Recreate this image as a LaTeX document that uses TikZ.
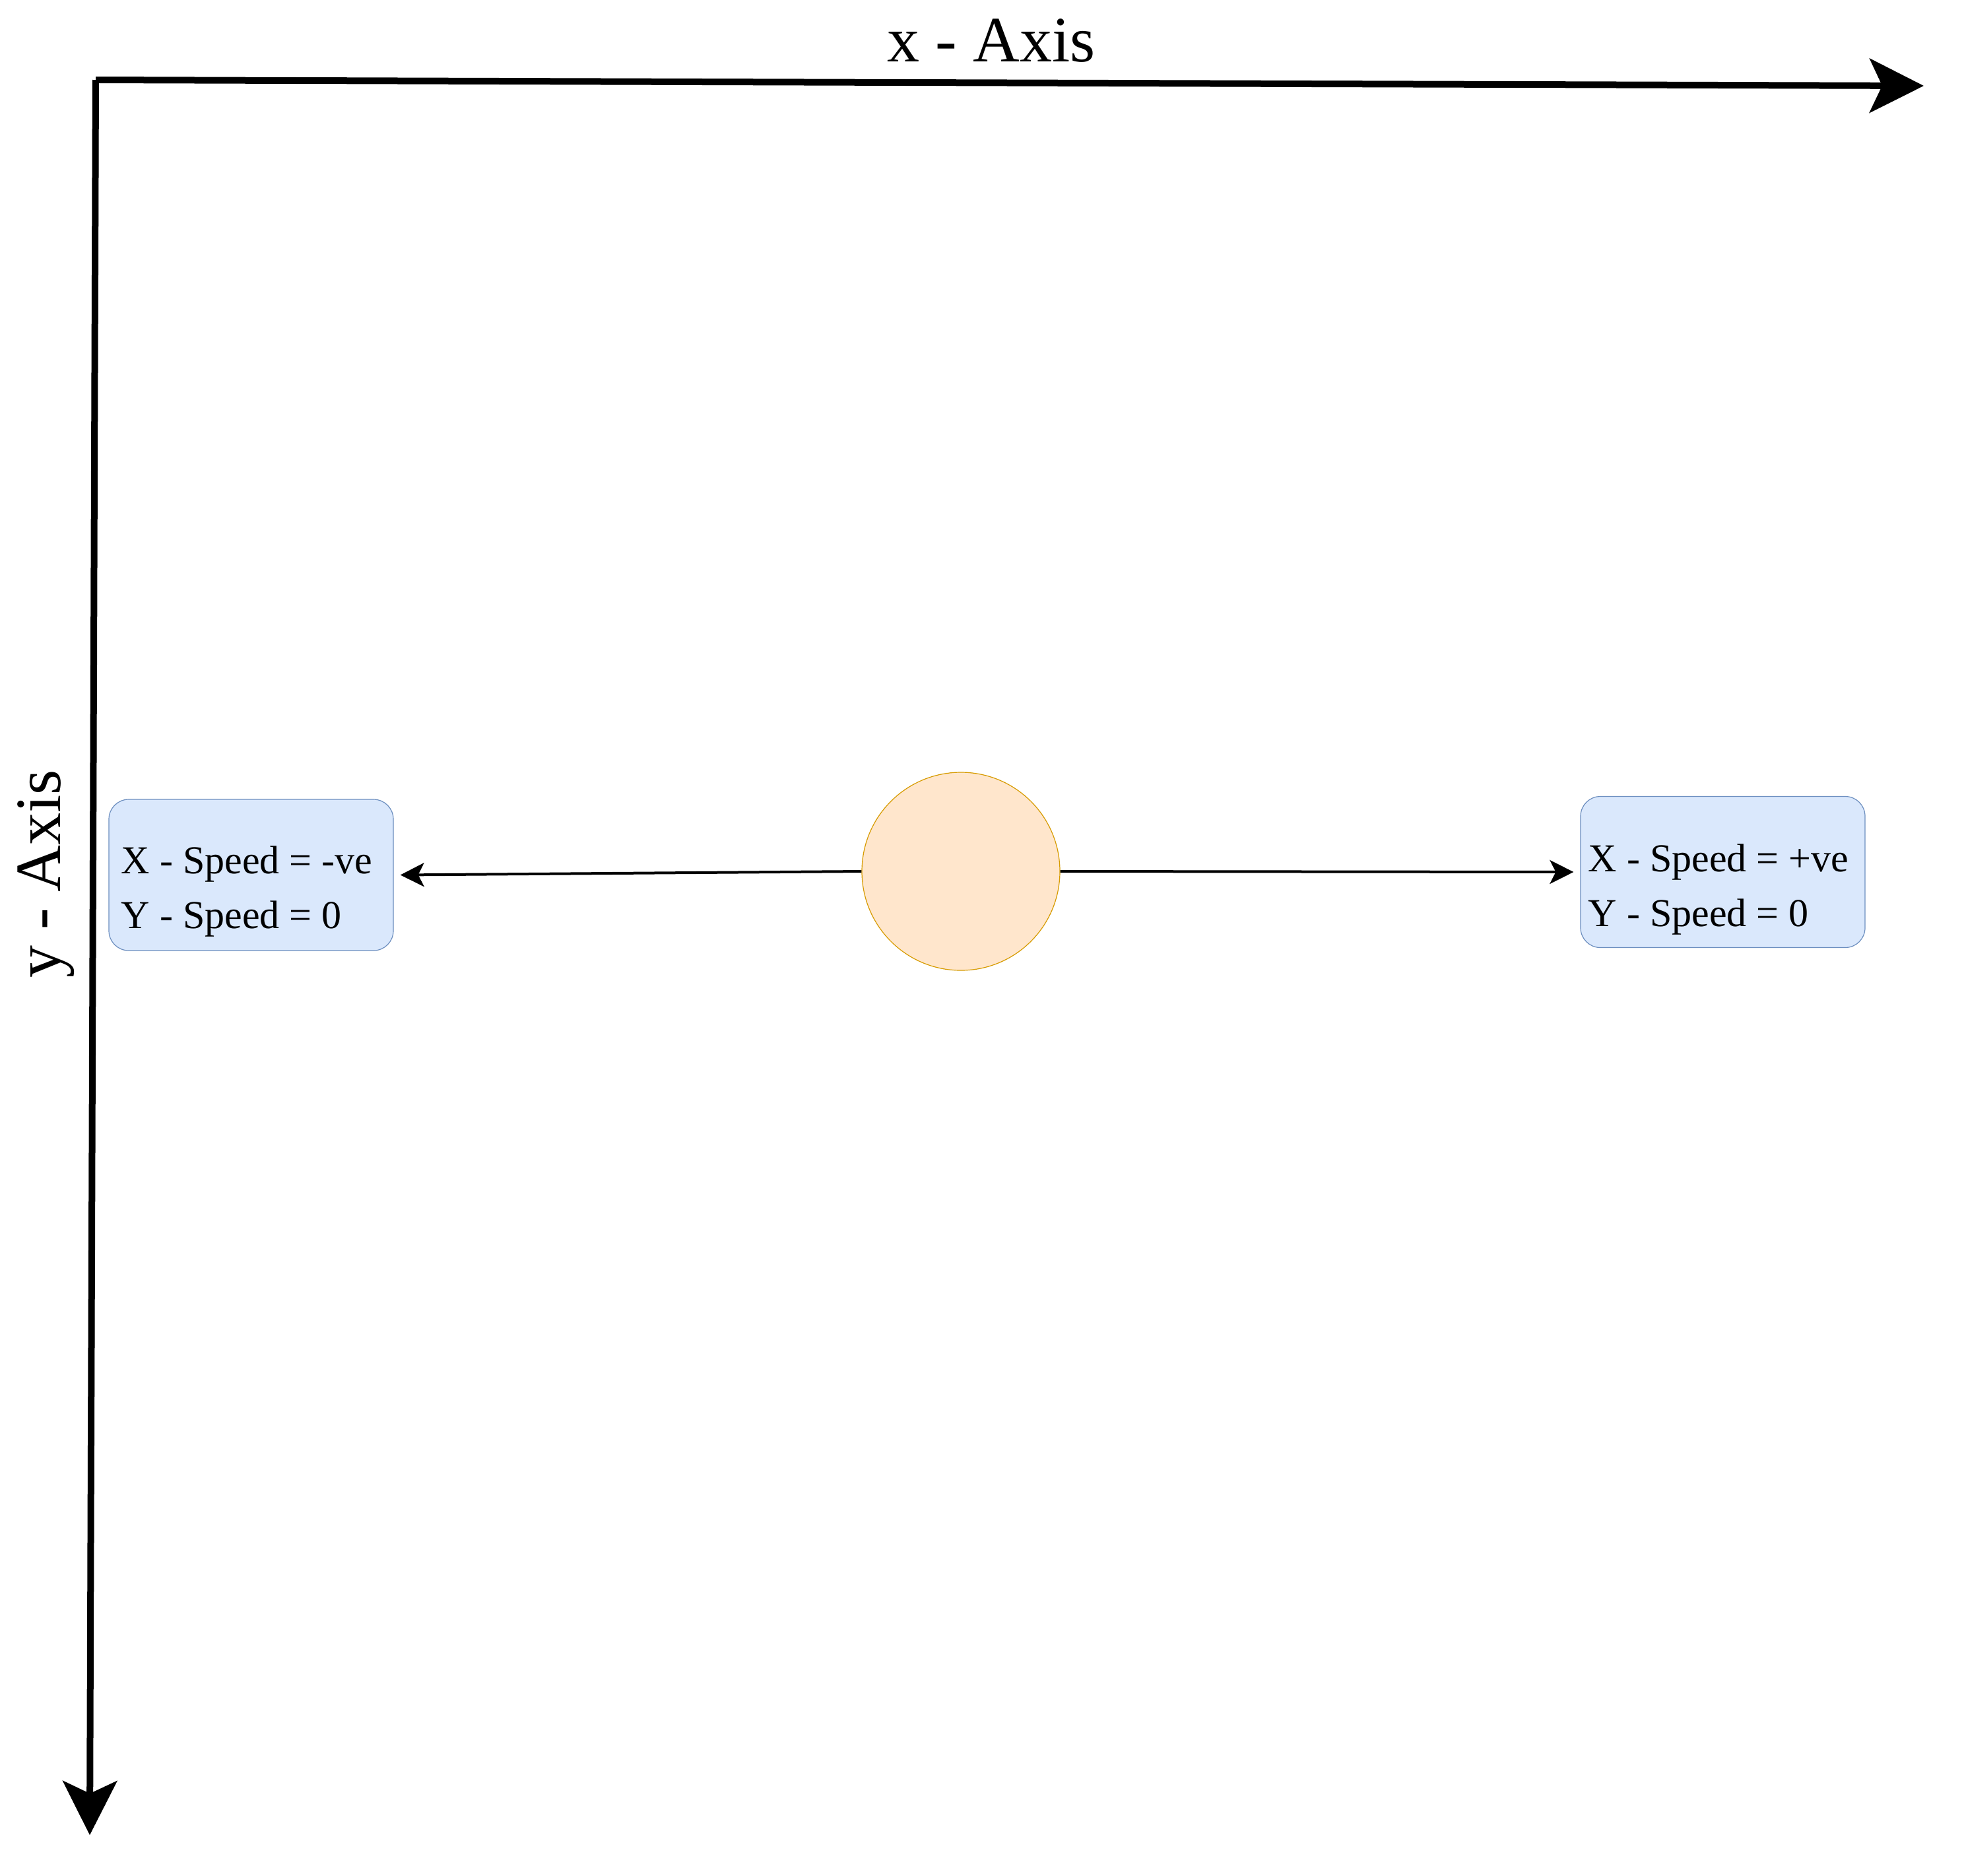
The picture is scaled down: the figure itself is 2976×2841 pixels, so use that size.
\documentclass[tikz,border=0pt]{standalone}
\usepackage{fontspec}
\setmainfont{Liberation Serif}
\usetikzlibrary{arrows.meta}
\definecolor{boxfill}{HTML}{DAE8FC}
\definecolor{boxline}{HTML}{6C8EBF}
\definecolor{ballfill}{HTML}{FFE6CC}
\definecolor{ballline}{HTML}{D79B00}
\tikzset{
  axis/.style={line width=2.5pt, -{Stealth[length=20.5pt,width=20.5pt,inset=4.75pt]}},
  conn/.style={line width=1pt, -{Stealth[length=9pt,width=9pt,inset=2.25pt]}},
  infobox/.style={draw=boxline, fill=boxfill, line width=0.3pt, rounded corners=7.5pt,
    minimum width=107.75pt, minimum height=57.25pt, inner sep=0pt},
  infotext/.style={anchor=base west, align=left, inner sep=0pt,
    font=\fontsize{15pt}{20.75pt}\selectfont},
  axislabel/.style={anchor=base, inner sep=0pt, font=\fontsize{24.5pt}{29pt}\selectfont},
  ballstyle/.style={circle, draw=ballline, fill=ballfill, line width=0.3pt,
    minimum size=75pt, inner sep=0pt}
}
\begin{document}
\begin{tikzpicture}[x=0.25pt, y=-0.25pt]
\useasboundingbox (0,0) rectangle (2976,2841);
\fill[white] (0,0) rectangle (2976,2841);
% axes
\coordinate (O) at (145,121);
\coordinate (xend) at (2915,130);
\coordinate (yend) at (136,2780);
\draw[axis] (O) -- (xend);
\draw[axis] (O) -- (yend);
\node[axislabel] (xlabel) at (1502,93) {x - Axis};
\node[axislabel, rotate=90] (ylabel) at (92,1324) {y - Axis};
% ball
\node[ballstyle] (ball) at (1456,1320) {};
% boxes
\node[infobox] (lbox) at (380.5,1325.5) {};
\node[infobox] (rbox) at (2610.5,1321) {};
\node[infotext] (ltext) at (183,1406) {X - Speed = -ve\\Y - Speed = 0};
\node[infotext] (rtext) at (2406,1403) {X - Speed = +ve\\Y - Speed = 0};
% connectors
\draw[conn] (ball.west) -- ([xshift=2.5pt]lbox.east);
\draw[conn] (ball.east) -- ([xshift=-2.5pt]rbox.west);
\end{tikzpicture}
\end{document}
